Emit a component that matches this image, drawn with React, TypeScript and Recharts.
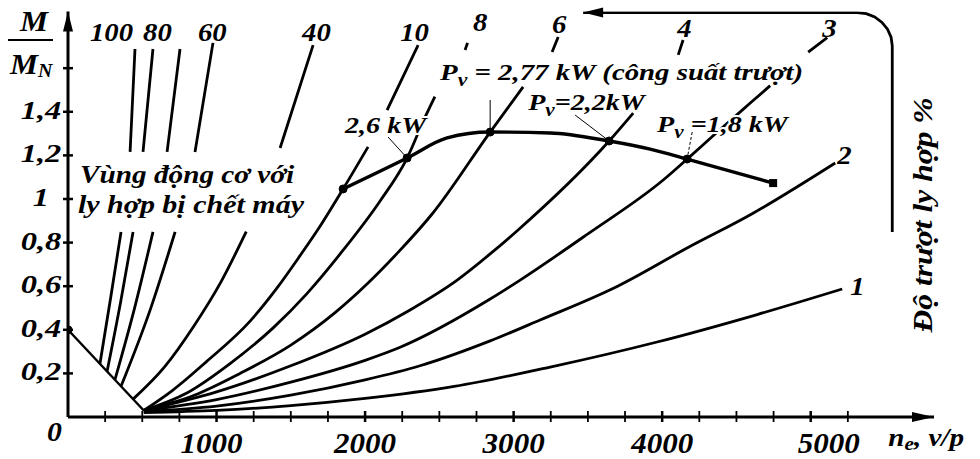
import React from 'react';
import { ComposedChart, Line, XAxis, YAxis, ReferenceDot } from 'recharts';

type P = [number, number | null];

// ---- data: engine speed n_e (v/p) vs torque ratio M/M_N ----
const diagonal: P[] = [[0, 0.4], [510, 0.03]];

const slip100: P[] = [[215, 0.244], [288, 0.55], [357, 0.849], [390, null], [418, 1.216], [451, 1.688]];
const slip80: P[] = [[263, 0.209], [355, 0.53], [438, 0.849], [470, null], [505, 1.216], [572, 1.688]];
const slip70: P[] = [[316, 0.171], [452, 0.51], [572, 0.849], [620, null], [667, 1.216], [754, 1.688]];
const slip60: P[] = [[357, 0.141], [555, 0.495], [721, 0.849], [790, null], [855, 1.216], [976, 1.716]];
const slip40: P[] = [[438, 0.082], [650, 0.23], [850, 0.42], [1030, 0.62], [1200, 0.85], [1300, null], [1428, 1.234], [1650, 1.706]];
const slip10: P[] = [[510, 0.03], [700, 0.12], [934, 0.255], [1226, 0.44], [1405, 0.59], [1562, 0.74], [1697, 0.875], [1852, 1.046], [2020, 1.239], [2080, null], [2148, 1.408], [2357, 1.706]];
const slip8: P[] = [[510, 0.03], [800, 0.11], [1091, 0.245], [1383, 0.41], [1607, 0.565], [1852, 0.765], [2100, 0.99], [2283, 1.188], [2400, 1.37], [2470, 1.47], [2570, null], [2673, 1.683], [2690, 1.716]];
const slip6: P[] = [[510, 0.03], [850, 0.1], [1158, 0.2], [1500, 0.33], [1800, 0.48], [2013, 0.61], [2222, 0.755], [2450, 0.93], [2842, 1.307], [3064, 1.514], [3160, null], [3259, 1.674], [3300, 1.743]];
const slip4: P[] = [[510, 0.03], [1000, 0.115], [1500, 0.235], [2000, 0.38], [2300, 0.49], [2620, 0.628], [2842, 0.748], [3030, 0.858], [3643, 1.266], [3805, 1.394], [3950, null], [4108, 1.661], [4141, 1.729]];
const slip3: P[] = [[510, 0.03], [1000, 0.08], [1500, 0.16], [2000, 0.26], [2236, 0.32], [2842, 0.541], [3044, 0.628], [3500, 0.84], [4007, 1.087], [4168, 1.183], [4343, 1.29], [4593, 1.44], [4727, 1.52], [4850, null], [4983, 1.674], [5111, 1.74]];
const slip2: P[] = [[510, 0.025], [1000, 0.05], [1500, 0.1], [2000, 0.17], [2370, 0.235], [2842, 0.349], [3178, 0.445], [3700, 0.6], [4168, 0.775], [4600, 0.93], [5165, 1.165]];
const slip1: P[] = [[510, 0.02], [1000, 0.03], [1500, 0.052], [2000, 0.085], [2600, 0.14], [3246, 0.229], [3966, 0.344], [4640, 0.47], [5212, 0.587]];

// slip-power limit curve (P_v) and its marked points
const powerCurve: P[] = [[1852, 1.046], [2283, 1.188], [2552, 1.28], [2842, 1.307], [3246, 1.303], [3643, 1.266], [3919, 1.229], [4168, 1.183], [4747, 1.073]];
const powerDots: P[] = [[0, 0.4], [1852, 1.046], [2283, 1.188], [2842, 1.307], [3643, 1.266], [4168, 1.183]];
const powerEnd: P[] = [[4747, 1.073]];

// thin leader lines
const lead26: P[] = [[2155, 1.284], [2283, 1.188]];
const lead277: P[] = [[2842, 1.454], [2842, 1.307]];
const lead22: P[] = [[3414, 1.385], [3643, 1.266]];
const lead18: P[] = [[4202, 1.307], [4168, 1.183]];

// "increasing clutch slip" arrow
const slipArrow: P[] = [[3468, 1.855], [5313, 1.855], [5374, 1.85], [5431, 1.835], [5480, 1.81], [5517, 1.779], [5541, 1.742], [5549, 1.703], [5549, 0.849]];

const xTicks = [0, 250, 500, 750, 1000, 1250, 1500, 1750, 2000, 2250, 2500, 2750, 3000, 3250, 3500, 3750, 4000, 4250, 4500, 4750, 5000, 5250];
const yTicks = [0.2, 0.4, 0.6, 0.8, 1, 1.2, 1.4, 1.6];

const curveLabels: { x: number; y: number; t: string }[] = [
  { x: 148, y: 1.725, t: '100' },
  { x: 505, y: 1.725, t: '80' },
  { x: 875, y: 1.725, t: '60' },
  { x: 1576, y: 1.725, t: '40' },
  { x: 2236, y: 1.725, t: '10' },
  { x: 2727, y: 1.771, t: '8' },
  { x: 3259, y: 1.761, t: '6' },
  { x: 4101, y: 1.743, t: '4' },
  { x: 5077, y: 1.743, t: '3' },
  { x: 5178, y: 1.161, t: '2' },
  { x: 5266, y: 0.56, t: '1' },
];

const FONT = "'Liberation Serif','Times New Roman',serif";

const toData = (arr: P[]) => arr.map(([x, y]) => ({ x, y }));

function SText(props: any) {
  const { x, y, size, sx = 1.17, anchor = 'start', rotate = 0, halo = false, children } = props;
  return (
    <text
      transform={`translate(${x},${y}) rotate(${rotate}) scale(${sx},1)`}
      textAnchor={anchor}
      fontFamily={FONT}
      fontWeight="bold"
      fontStyle="italic"
      fontSize={size}
      fill="#000"
      stroke={halo ? '#fff' : 'none'}
      strokeWidth={halo ? 4 : 0}
      strokeLinejoin="round"
      style={{ paintOrder: 'stroke' }}
    >
      {children}
    </text>
  );
}

const XTick = (props: any) => {
  const { x, y, payload } = props;
  const v = payload.value as number;
  if (v === 0) return <g />;
  const major = v % 1000 === 0;
  const dx = v === 5000 ? 18 : v === 1000 ? -5 : 0;
  return (
    <g>
      <line x1={x} x2={x} y1={y - 6} y2={y + 5} stroke="#000" strokeWidth={major ? 2.5 : 1.8} />
      {major && (
        <SText x={x + dx} y={y + 36} size={29} sx={1.07} anchor="middle">
          {String(v)}
        </SText>
      )}
    </g>
  );
};

const YTick = (props: any) => {
  const { x, y, payload } = props;
  const v = payload.value as number;
  const label = v === 1 ? '1' : v.toFixed(1).replace('.', ',');
  return (
    <g>
      <line x1={x - 5} x2={x + 5} y1={y} y2={y} stroke="#000" strokeWidth={2.5} />
      {v < 1.5 && (
        <SText x={x - 27} y={y + 7} size={25} sx={1.3} anchor="middle">
          {label}
        </SText>
      )}
    </g>
  );
};

const lineProps = {
  dataKey: 'y',
  stroke: '#000',
  dot: false,
  activeDot: false,
  isAnimationActive: false,
  connectNulls: false,
  legendType: 'none' as const,
};

export default function App() {
  const curves: P[][] = [slip100, slip80, slip70, slip60, slip40, slip10, slip8, slip6, slip4, slip3, slip2, slip1];
  return (
    <div style={{ position: 'absolute', left: 0, top: 0, width: 980, height: 459, background: '#fff' }}>
      <ComposedChart width={980} height={459} margin={{ top: 11.5, right: 46, bottom: 12, left: 8 }}>
        <XAxis
          type="number"
          dataKey="x"
          domain={[0, 5830]}
          allowDataOverflow
          ticks={xTicks}
          interval={0}
          tickSize={0}
          tickMargin={0}
          tick={<XTick />}
          axisLine={{ stroke: '#000', strokeWidth: 3 }}
          tickLine={false}
          height={30}
        />
        <YAxis
          type="number"
          dataKey="y"
          domain={[0, 1.86]}
          allowDataOverflow
          ticks={yTicks}
          interval={0}
          tickSize={0}
          tickMargin={0}
          tick={<YTick />}
          axisLine={{ stroke: '#000', strokeWidth: 3 }}
          tickLine={false}
          width={60}
        />

        <Line {...lineProps} data={toData(diagonal)} type="linear" strokeWidth={2.4} />
        {curves.map((c, i) => (
          <Line key={'c' + i} {...lineProps} data={toData(c)} type="monotone" strokeWidth={2.8} />
        ))}
        <Line {...lineProps} data={toData(powerCurve)} type="monotone" strokeWidth={3.4} />
        <Line {...lineProps} data={toData(lead26)} type="linear" strokeWidth={1} />
        <Line {...lineProps} data={toData(lead277)} type="linear" strokeWidth={1} />
        <Line {...lineProps} data={toData(lead22)} type="linear" strokeWidth={1} />
        <Line {...lineProps} data={toData(lead18)} type="linear" strokeWidth={1} strokeDasharray="3 2" />
        <Line {...lineProps} data={toData(slipArrow)} type="linear" strokeWidth={2.8} />
        <Line
          {...lineProps}
          data={toData(powerDots)}
          type="linear"
          stroke="none"
          dot={{ r: 4, fill: '#000', stroke: '#000', strokeWidth: 1 }}
        />
        <Line
          {...lineProps}
          data={toData(powerEnd)}
          type="linear"
          stroke="none"
          dot={(p: any) => <rect key="sq" x={p.cx - 4} y={p.cy - 4} width={8} height={8} fill="#000" />}
        />

        {/* arrowheads */}
        <ReferenceDot x={0} y={1.86} r={1} ifOverflow="visible"
          shape={(p: any) => <polygon points={`${p.cx},${p.cy} ${p.cx - 5},${p.cy + 20} ${p.cx + 5},${p.cy + 20}`} fill="#000" />} />
        <ReferenceDot x={5830} y={0} r={1} ifOverflow="visible"
          shape={(p: any) => <polygon points={`${p.cx},${p.cy} ${p.cx - 22},${p.cy - 5} ${p.cx - 22},${p.cy + 5}`} fill="#000" />} />
        <ReferenceDot x={3468} y={1.855} r={1} ifOverflow="visible"
          shape={(p: any) => <polygon points={`${p.cx},${p.cy} ${p.cx + 20},${p.cy - 5} ${p.cx + 20},${p.cy + 5}`} fill="#000" />} />

        {/* curve labels */}
        {curveLabels.map((l, i) => (
          <ReferenceDot key={'l' + i} x={l.x} y={l.y} r={1} ifOverflow="visible"
            shape={(p: any) => <SText x={p.cx} y={p.cy} size={25} sx={1.15}>{l.t}</SText>} />
        ))}

        {/* annotations */}
        <ReferenceDot x={1865} y={1.303} r={1} ifOverflow="visible"
          shape={(p: any) => <SText x={p.cx} y={p.cy} size={24} sx={1.17} halo>2,6 kW</SText>} />
        <ReferenceDot x={2505} y={1.546} r={1} ifOverflow="visible"
          shape={(p: any) => (
            <SText x={p.cx} y={p.cy} size={24} sx={1.2} halo>
              <tspan>P</tspan>
              <tspan dy={6} fontSize={18}>v</tspan>
              <tspan dy={-6}> = 2,77 kW (công suất trượt)</tspan>
            </SText>
          )} />
        <ReferenceDot x={3098} y={1.408} r={1} ifOverflow="visible"
          shape={(p: any) => (
            <SText x={p.cx} y={p.cy} size={24} sx={1.17} halo>
              <tspan>P</tspan>
              <tspan dy={6} fontSize={18}>v</tspan>
              <tspan dy={-6}>=2,2kW</tspan>
            </SText>
          )} />
        <ReferenceDot x={3966} y={1.307} r={1} ifOverflow="visible"
          shape={(p: any) => (
            <SText x={p.cx} y={p.cy} size={24} sx={1.17} halo>
              <tspan>P</tspan>
              <tspan dy={6} fontSize={18}>v</tspan>
              <tspan dy={-6}> =1,8 kW</tspan>
            </SText>
          )} />
        <ReferenceDot x={81} y={1.073} r={1} ifOverflow="visible"
          shape={(p: any) => <SText x={p.cx} y={p.cy} size={25} sx={1.17}>Vùng động cơ với</SText>} />
        <ReferenceDot x={67} y={0.936} r={1} ifOverflow="visible"
          shape={(p: any) => <SText x={p.cx} y={p.cy} size={25} sx={1.2}>ly hợp bị chết máy</SText>} />

        {/* axis titles */}
        <ReferenceDot x={-323} y={1.771} r={1} ifOverflow="visible"
          shape={(p: any) => (
            <g>
              <SText x={p.cx} y={p.cy} size={30} sx={1.05}>M</SText>
              <line x1={p.cx - 12} x2={p.cx + 33} y1={p.cy + 9} y2={p.cy + 9} stroke="#000" strokeWidth={2} />
              <SText x={p.cx - 10} y={p.cy + 43} size={30} sx={1.05}>
                <tspan>M</tspan>
                <tspan dy={3} fontSize={19}>N</tspan>
              </SText>
            </g>
          )} />
        <ReferenceDot x={-141} y={-0.11} r={1} ifOverflow="visible"
          shape={(p: any) => <SText x={p.cx} y={p.cy} size={27} sx={1.1}>0</SText>} />
        <ReferenceDot x={5522} y={-0.133} r={1} ifOverflow="visible"
          shape={(p: any) => (
            <SText x={p.cx} y={p.cy} size={26} sx={1.12}>
              <tspan>n</tspan>
              <tspan dy={4} fontSize={19}>e</tspan>
              <tspan dy={-4}>, v/p</tspan>
            </SText>
          )} />
        <ReferenceDot x={5818} y={0.968} r={1} ifOverflow="visible"
          shape={(p: any) => <SText x={p.cx} y={p.cy + 9} size={27} sx={1.17} rotate={-90} anchor="middle">Độ trượt ly hợp %</SText>} />
      </ComposedChart>
    </div>
  );
}
